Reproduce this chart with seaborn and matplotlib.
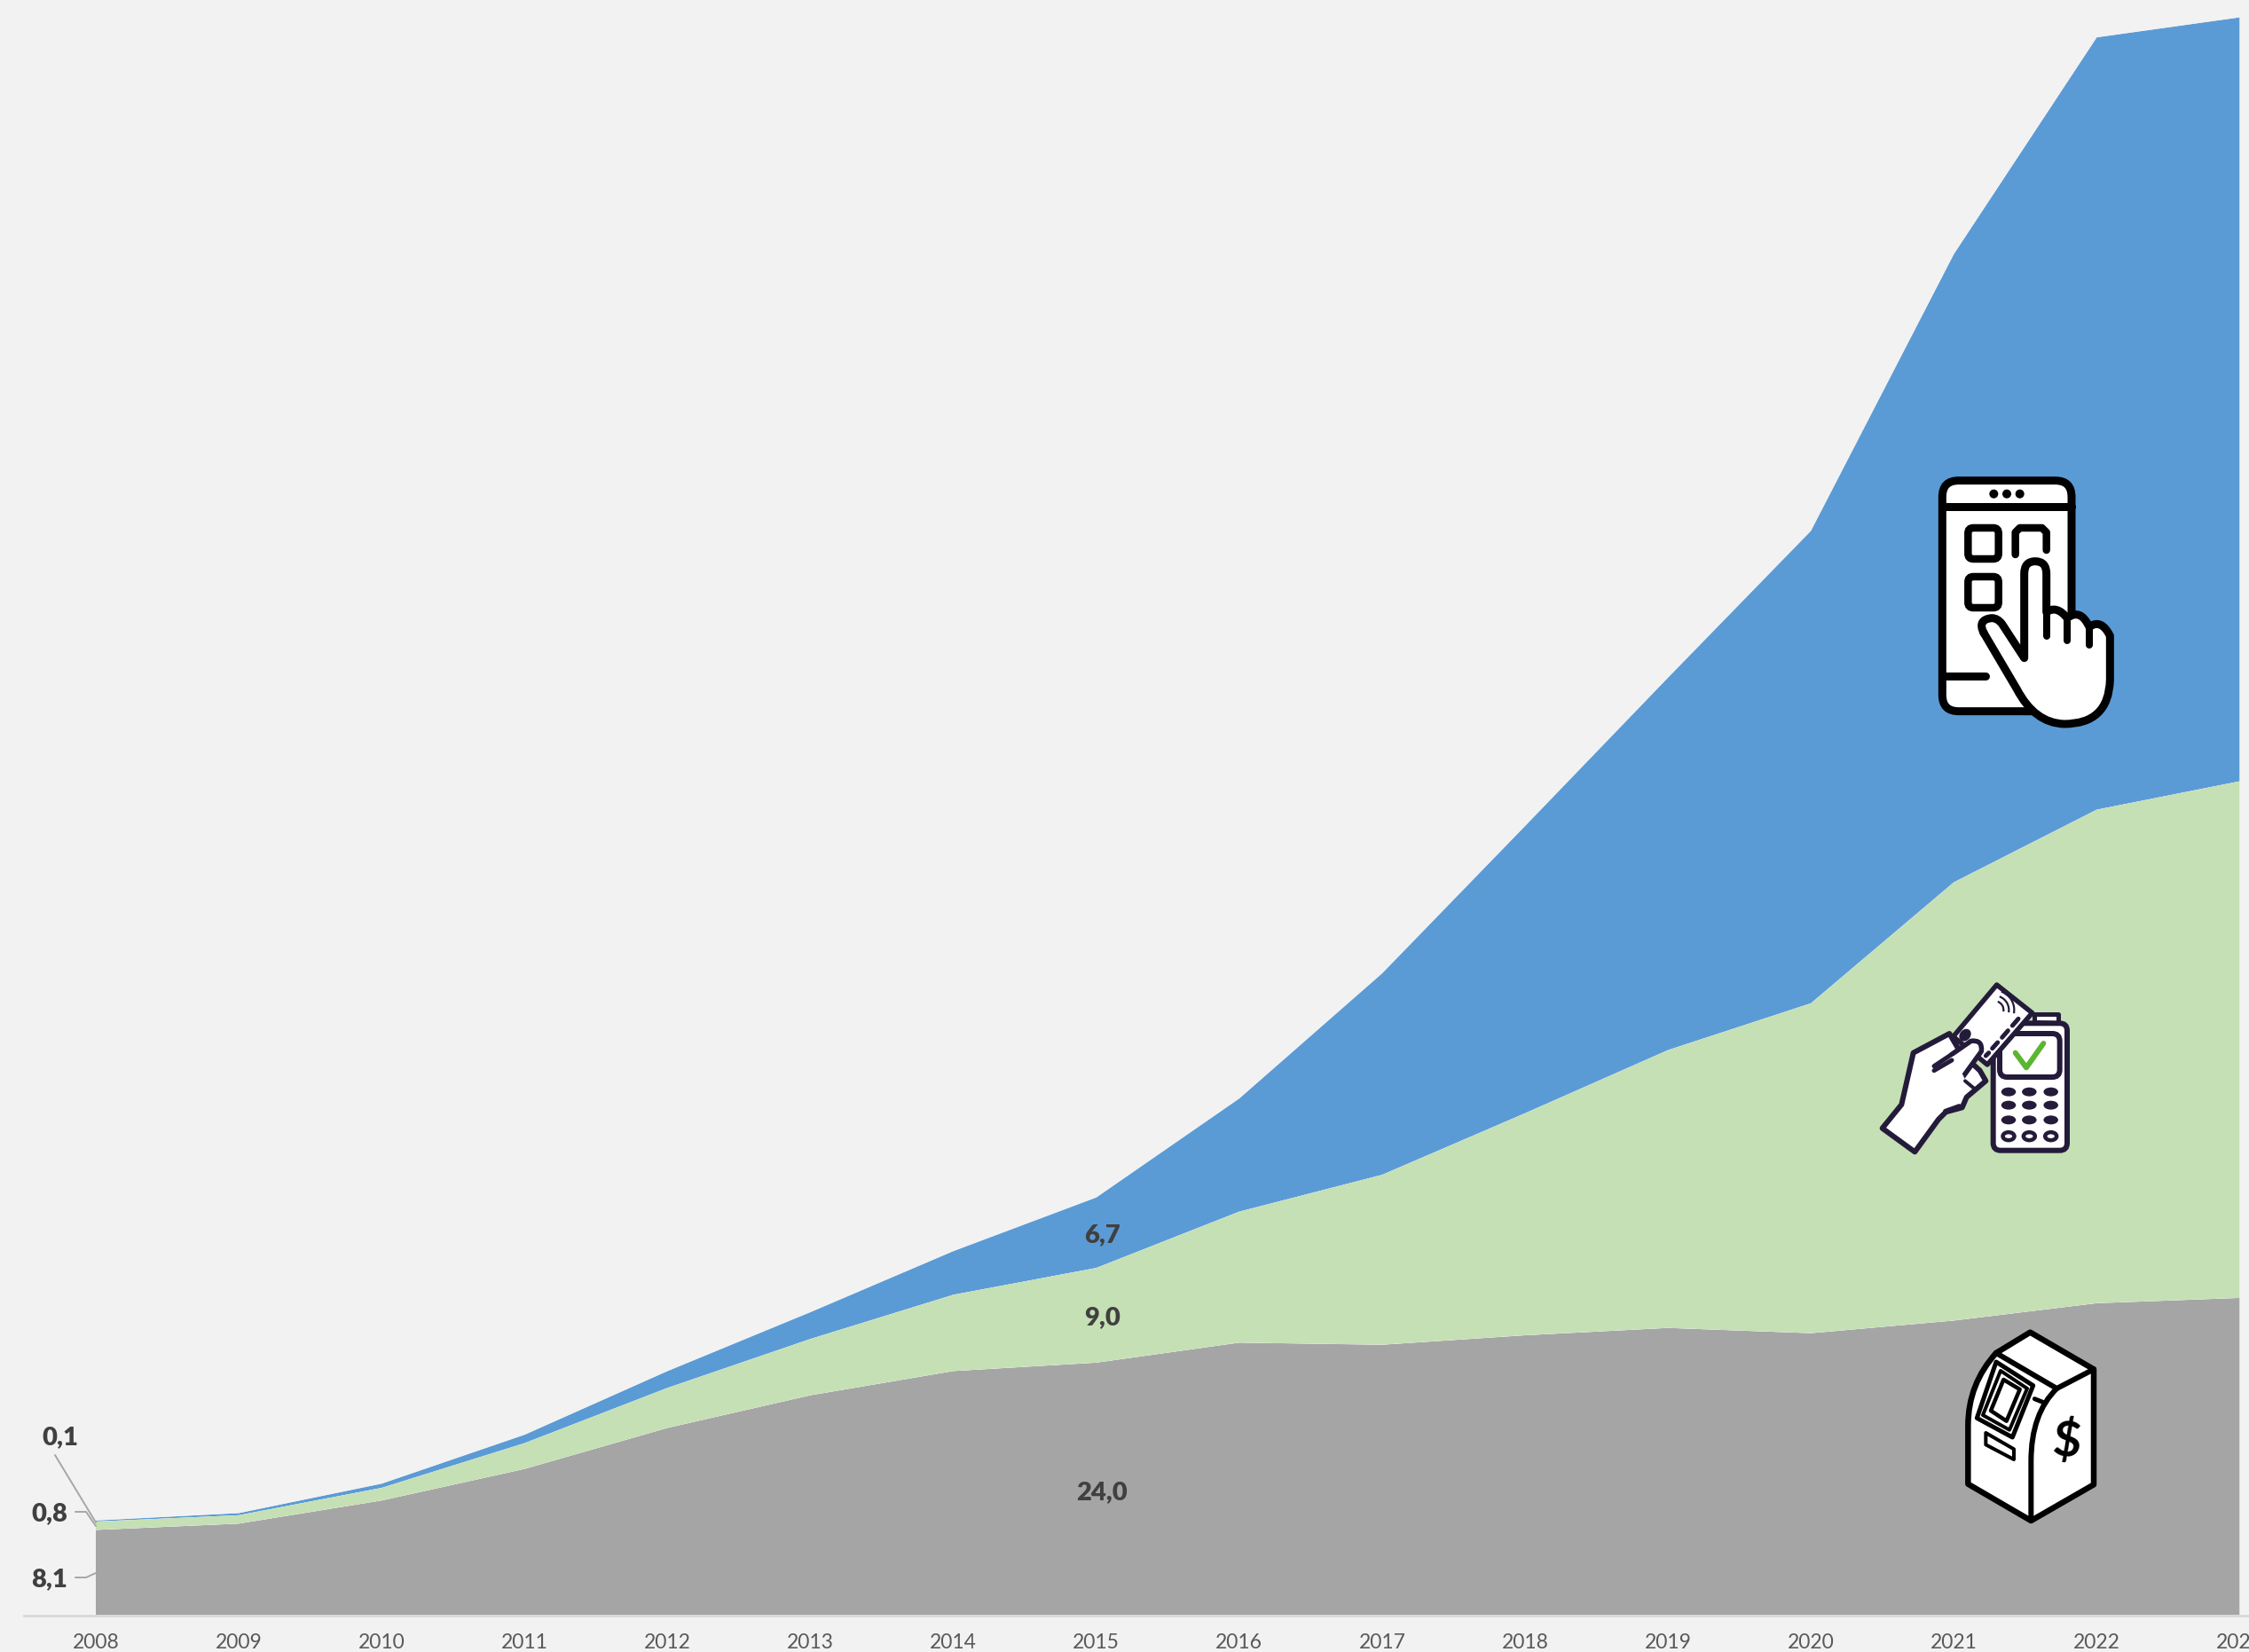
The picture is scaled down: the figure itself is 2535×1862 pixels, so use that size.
import matplotlib
matplotlib.use('Agg')
import matplotlib.pyplot as plt
from matplotlib.patches import Circle, Ellipse, FancyBboxPatch, Polygon, PathPatch, Arc
from matplotlib.path import Path
import pandas as pd
import seaborn as sns
import seaborn.objects as so

# dati
anni = list(range(2008, 2024))
contante = [8.1, 8.7, 10.9, 13.9, 17.8, 20.9, 23.2, 24.0, 25.9, 25.7, 26.6, 27.3, 26.8, 28.0, 29.65, 30.15]
carte = [0.8, 0.8, 1.2, 2.45, 3.8, 5.35, 7.25, 9.0, 12.45, 16.15, 21.1, 26.4, 31.35, 41.65, 46.9, 49.1]
digitale = [0.1, 0.2, 0.4, 0.8, 1.6, 2.55, 4.15, 6.7, 10.75, 19.15, 27.3, 35.4, 44.9, 59.7, 73.4, 72.6]

GRIGIO = '#A5A5A5'
VERDE = '#C5E0B4'
BLU = '#5B9BD5'
SFONDO = '#F2F2F2'
TESTO = '#404040'
W, H = 2535, 1862
X0, STEP = 108, 161.1      # pixel del 2008 e passo annuale
Y0, SCALA = 1820.5, 11.86  # pixel della base e pixel per unita

sns.set_theme(style='white')
plt.rcParams['font.family'] = ['Lato', 'DejaVu Sans']

df = pd.concat([
    pd.DataFrame({'anno': anni, 'valore': contante, 'serie': 'contante'}),
    pd.DataFrame({'anno': anni, 'valore': carte, 'serie': 'carte'}),
    pd.DataFrame({'anno': anni, 'valore': digitale, 'serie': 'digitale'}),
])

fig = plt.figure(figsize=(W / 100, H / 100), dpi=100, facecolor=SFONDO)
left = 27
ax = fig.add_axes([left / W, (H - Y0) / H, 1 - left / W, Y0 / H])

(
    so.Plot(df, x='anno', y='valore', color='serie')
    .add(so.Area(alpha=1, edgewidth=0), so.Stack())
    .scale(color={'contante': GRIGIO, 'carte': VERDE, 'digitale': BLU})
    .on(ax)
    .plot()
)
fig.legends.clear()

ax.set_facecolor(SFONDO)
ax.grid(False)
ax.set_xlim(2008 + (left - X0) / STEP, 2008 + (W - X0) / STEP)
ax.set_ylim(0, Y0 / SCALA)
ax.set_xlabel('')
ax.set_ylabel('')
ax.set_yticks([])
ax.set_xticks(anni)
ax.set_xticklabels([str(a) for a in anni])
ax.tick_params(axis='x', length=0, pad=15, labelsize=16.5, labelcolor='#595959')
sns.despine(ax=ax, left=True, right=True, top=True)
ax.spines['bottom'].set_color('#D9D9D9')
ax.spines['bottom'].set_linewidth(2.0)

# etichette 2015 al centro delle fasce, spostate come nell'originale
i = anni.index(2015)
etichette = dict(fontsize=21, fontweight='heavy', color=TESTO, ha='center', va='center')
fmt = lambda v: f'{v:.1f}'.replace('.', ',')
x_lab = 2015 + 6.5 / STEP
ax.text(x_lab, contante[i] / 2 - 0.35, fmt(contante[i]), **etichette)
ax.text(x_lab, contante[i] + carte[i] / 2 - 0.25, fmt(carte[i]), **etichette)
ax.text(x_lab, contante[i] + carte[i] + digitale[i] / 2 - 0.25, fmt(digitale[i]), **etichette)

# livello sopra in pixel per icone e linee guida
top = fig.add_axes([0, 0, 1, 1], facecolor='none')
top.set_xlim(0, W)
top.set_ylim(H, 0)
top.axis('off')

top.text(68, 1620, fmt(digitale[0]), **etichette)
top.text(56, 1706.5, fmt(carte[0]), **etichette)
top.text(56, 1780, fmt(contante[0]), **etichette)
top.plot([62, 108], [1640, 1716], color='#A6A6A6', lw=1.4)
top.plot([85, 97, 108], [1704, 1704, 1720], color='#A6A6A6', lw=1.4)
top.plot([85, 97, 108], [1778, 1778, 1773], color='#A6A6A6', lw=1.4)


def zoomed(pts, ox, oy):
    return [(ox + x / 3, oy + y / 3) for x, y in pts]


def poly(pts, ox, oy, lw, fc='white', ec='black', closed=True):
    top.add_patch(Polygon(zoomed(pts, ox, oy), closed=closed, fc=fc, ec=ec, lw=lw * 0.72,
                          joinstyle='round', capstyle='round'))


def line(pts, ox, oy, lw, color='black'):
    xy = zoomed(pts, ox, oy)
    top.plot([p[0] for p in xy], [p[1] for p in xy], color=color, lw=lw * 0.72,
             solid_capstyle='round', solid_joinstyle='round')


def rbox(x0, y0, x1, y1, r, ox, oy, lw, fc='white', ec='black'):
    (a, b), (c, d) = zoomed([(x0, y0), (x1, y1)], ox, oy)
    top.add_patch(FancyBboxPatch((a, b), c - a, d - b, boxstyle=f'round,pad=0,rounding_size={r / 3}',
                                 fc=fc, ec=ec, lw=lw * 0.72))


def curve(codes_pts, ox, oy, lw, fc='white', ec='black'):
    verts = zoomed([p for _, p in codes_pts], ox, oy)
    top.add_patch(PathPatch(Path(verts, [c for c, _ in codes_pts]), fc=fc, ec=ec, lw=lw * 0.72,
                            joinstyle='round', capstyle='round'))


M, L, Q = Path.MOVETO, Path.LINETO, Path.CURVE3

# icona telefono
ox, oy = 2150, 510
rbox(118, 95, 555, 875, 55, ox, oy, 9)
line([(118, 183), (555, 183)], ox, oy, 9)
for zx in (292, 336, 380):
    top.add_patch(Circle(zoomed([(zx, 140)], ox, oy)[0], 5, fc='black', ec='none'))
rbox(205, 255, 308, 360, 18, ox, oy, 8.5)
rbox(205, 420, 308, 525, 18, ox, oy, 8.5)
line([(365, 345), (365, 270), (380, 255), (455, 255), (470, 270), (470, 330)], ox, oy, 8.5)
line([(125, 757), (265, 757)], ox, oy, 9)
curve([
    (M, (258, 610)), (Q, (235, 565)), (Q, (285, 560)), (Q, (305, 560)), (Q, (320, 580)),
    (L, (395, 695)), (L, (395, 410)), (Q, (395, 368)), (Q, (432, 368)), (Q, (470, 368)),
    (Q, (470, 410)), (L, (470, 540)), (Q, (505, 515)), (Q, (540, 560)), (Q, (585, 525)),
    (Q, (615, 590)), (Q, (655, 560)), (Q, (685, 620)), (L, (685, 770)), (Q, (680, 918)),
    (Q, (530, 918)), (Q, (430, 915)), (Q, (370, 800)), (L, (258, 610)),
], ox, oy, 9)
line([(470, 530), (470, 620)], ox, oy, 8)
line([(540, 560), (540, 635)], ox, oy, 8)
line([(615, 590), (615, 650)], ox, oy, 8)

# icona carta e terminale
ox, oy = 2100, 1090
SCURO = '#241B3A'
poly([(580, 185), (580, 158), (660, 158), (660, 190)], ox, oy, 5, ec=SCURO)
rbox(440, 190, 690, 620, 25, ox, oy, 6, ec=SCURO)
rbox(462, 225, 665, 372, 25, ox, oy, 6, ec=SCURO)
line([(515, 290), (552, 340), (610, 258)], ox, oy, 6, color='#5CB531')
for zy in (422, 467, 517):
    for zx in (492, 562, 635):
        top.add_patch(Ellipse(zoomed([(zx, zy)], ox, oy)[0], 16.5, 10, fc=SCURO, ec='none'))
for zx in (492, 562, 635):
    top.add_patch(Ellipse(zoomed([(zx, 572)], ox, oy)[0], 13, 9, fc='white', ec=SCURO, lw=3.2))
# prima la mano, poi la carta, poi il pollice sopra
poly([(65, 545), (130, 465), (170, 290), (292, 225), (330, 290), (395, 350), (415, 385),
      (350, 440), (335, 475), (280, 490), (255, 515), (175, 625)], ox, oy, 6, ec=SCURO)
poly([(452, 60), (572, 155), (420, 330), (305, 235)], ox, oy, 5.5, ec=SCURO)
for r in (20, 32, 44):
    top.add_patch(Arc(zoomed([(445, 145)], ox, oy)[0], r, r, angle=0, theta1=-70, theta2=10,
                      color=SCURO, lw=1.6))
line([(525, 175), (505, 198)], ox, oy, 5, color=SCURO)
line([(490, 215), (470, 238)], ox, oy, 5, color=SCURO)
line([(455, 255), (437, 275)], ox, oy, 5, color=SCURO)
line([(425, 290), (415, 300)], ox, oy, 5, color=SCURO)
top.add_patch(Ellipse(zoomed([(345, 230)], ox, oy)[0], 12, 15, angle=40, fc=SCURO, ec='none'))
curve([
    (M, (300, 295)), (L, (365, 250)), (Q, (405, 245)), (Q, (400, 285)), (L, (335, 375)),
    (L, (300, 330)),
], ox, oy, 5.5, fc='white', ec=SCURO)
top.add_patch(Polygon(zoomed([(250, 345), (305, 300), (345, 380), (320, 430)], ox, oy), fc='white', ec='none'))
line([(240, 335), (300, 295)], ox, oy, 5, color=SCURO)
line([(240, 350), (300, 315)], ox, oy, 5, color=SCURO)
line([(278, 487), (325, 470)], ox, oy, 5, color=SCURO)
line([(345, 385), (375, 410)], ox, oy, 4, color=SCURO)

# icona bancomat
ox, oy = 2190, 1480
curve([
    (M, (180, 135)), (Q, (85, 240)), (Q, (85, 380)), (L, (85, 578)), (L, (298, 702)),
    (L, (510, 580)), (L, (510, 190)), (L, (295, 65)), (L, (180, 135)),
], ox, oy, 6.5)
line([(180, 135), (385, 255), (510, 190)], ox, oy, 6)
curve([(M, (385, 255)), (Q, (298, 340)), (Q, (298, 500)), (L, (298, 702))], ox, oy, 6, fc='none')
poly([(180, 165), (305, 245), (235, 420), (115, 355)], ox, oy, 5)
poly([(195, 195), (285, 255), (225, 395), (135, 345)], ox, oy, 4)
poly([(205, 225), (260, 258), (215, 365), (162, 330)], ox, oy, 4.5)
poly([(145, 405), (240, 460), (240, 495), (145, 445)], ox, oy, 4)
line([(310, 290), (340, 302)], ox, oy, 5)
tx, ty = zoomed([(418, 432)], ox, oy)[0]
top.text(tx, ty, '$', fontsize=40, fontweight='bold', color='black', ha='center', va='center', rotation=-5)

fig.savefig('out.png', dpi=100, facecolor=SFONDO)
